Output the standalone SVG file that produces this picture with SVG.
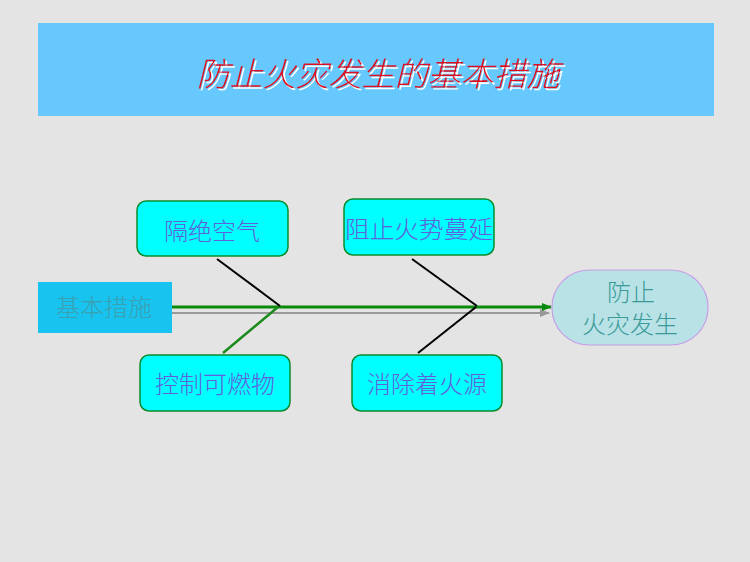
<svg xmlns="http://www.w3.org/2000/svg" width="750" height="562" viewBox="0 0 750 562">
<style>
.t{font-family:"Noto Sans CJK SC","Noto Sans CJK JP",sans-serif;font-weight:300;}
.box{fill:#00ffff;stroke:#0a8a2a;stroke-width:1.5;}
.bt{font-size:24px;fill:#6060dd;text-anchor:middle;}
</style>
<defs>
<marker id="ag" markerWidth="10" markerHeight="8" refX="9" refY="4" orient="auto" markerUnits="userSpaceOnUse"><path d="M0,0 L10,4 L0,8 Z" fill="#0a8a0a"/></marker>
<marker id="agr" markerWidth="10" markerHeight="8" refX="9" refY="4" orient="auto" markerUnits="userSpaceOnUse"><path d="M0,0 L10,4 L0,8 Z" fill="#999999"/></marker>
<filter id="sh" x="-10%" y="-30%" width="120%" height="160%"><feDropShadow dx="2" dy="2" stdDeviation="0.6" flood-color="#ffffff" flood-opacity="1"/></filter>
</defs>
<rect width="750" height="562" fill="#e4e4e4"/>
<g id="title">
<rect x="38" y="23" width="676" height="93" fill="#66c8fc"/>
<text class="t" x="378" y="86" font-size="33" font-style="italic" fill="#e01020" text-anchor="middle" filter="url(#sh)">防止火灾发生的基本措施</text>
</g>
<g id="connectors">
<line x1="172" y1="313" x2="549" y2="313" stroke="#999999" stroke-width="2" marker-end="url(#agr)"/>
<line x1="168" y1="307" x2="551" y2="307" stroke="#0a8a0a" stroke-width="3" marker-end="url(#ag)"/>
<line x1="217" y1="259" x2="280" y2="306" stroke="#000" stroke-width="2"/>
<line x1="278" y1="307" x2="223" y2="353" stroke="#1a8a1a" stroke-width="2.5"/>
<line x1="412" y1="259" x2="477" y2="306" stroke="#000" stroke-width="2"/>
<line x1="476" y1="307" x2="418" y2="353" stroke="#000" stroke-width="2"/>
</g>
<g id="start">
<rect x="38" y="282" width="134" height="51" fill="#19c3ef"/>
<text class="t" x="104" y="316" font-size="24" fill="#3aa0b0" text-anchor="middle">基本措施</text>
</g>
<g id="n1">
<rect class="box" x="137" y="201" width="151" height="55" rx="9"/>
<text class="t bt" x="212" y="240">隔绝空气</text>
</g>
<g id="n2">
<rect class="box" x="344" y="199" width="150" height="56" rx="9"/>
<text class="t bt" x="419" y="238" textLength="148" lengthAdjust="spacingAndGlyphs">阻止火势蔓延</text>
</g>
<g id="n3">
<rect class="box" x="140" y="355" width="150" height="56" rx="9"/>
<text class="t bt" x="215" y="393">控制可燃物</text>
</g>
<g id="n4">
<rect class="box" x="352" y="355" width="150" height="56" rx="9"/>
<text class="t bt" x="427" y="393">消除着火源</text>
</g>
<g id="goal">
<rect x="552" y="270" width="156" height="75" rx="37" ry="37" fill="#b8e2e6" stroke="#c89ee8" stroke-width="1.2"/>
<text class="t" x="631" y="301" font-size="24" fill="#3a9a9a" text-anchor="middle">防止</text>
<text class="t" x="630" y="333" font-size="24" fill="#3a9a9a" text-anchor="middle">火灾发生</text>
</g>
</svg>
